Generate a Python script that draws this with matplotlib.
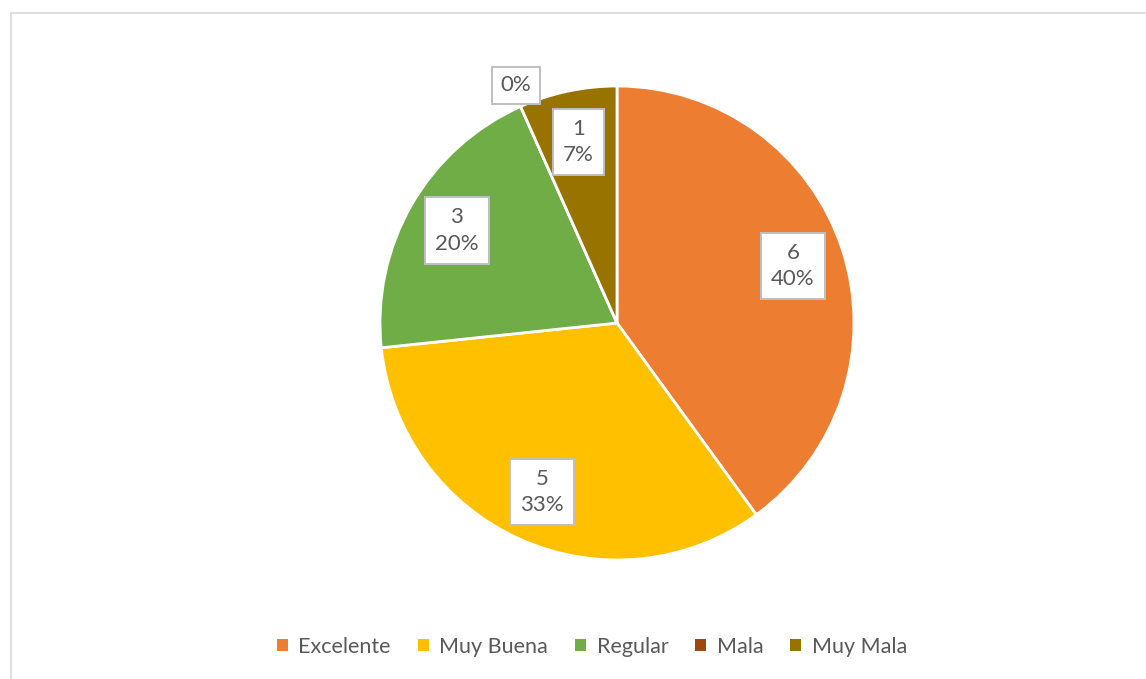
import numpy as np
import matplotlib
matplotlib.use("Agg")
import matplotlib.pyplot as plt
from matplotlib.patches import Patch
from matplotlib.lines import Line2D

categories = ["Excelente", "Muy Buena", "Regular", "Mala", "Muy Mala"]
values = [6, 5, 3, 0, 1]
colors = ["#ED7D31", "#FFC000", "#70AD47", "#9E480E", "#997300"]

plt.rcParams['font.family'] = ['Lato', 'DejaVu Sans']

W, H = 1146, 679
fig = plt.figure(figsize=(W / 100, H / 100), dpi=100)
fig.patch.set_facecolor("white")

# chart border (left and top visible)
fig.add_artist(Line2D([11 / W, 11 / W], [0, 1 - 13 / H], transform=fig.transFigure,
                      color="#D9D9D9", lw=1.2))
fig.add_artist(Line2D([11 / W, 1], [1 - 13 / H, 1 - 13 / H], transform=fig.transFigure,
                      color="#D9D9D9", lw=1.2))

cx, cy, r = 617, 323, 237
ax = fig.add_axes([(cx - r) / W, (H - cy - r) / H, 2 * r / W, 2 * r / H])

wedges, _ = ax.pie(values, colors=colors, startangle=90, counterclock=False,
                   radius=1, wedgeprops=dict(edgecolor="white", linewidth=2.0))
ax.set_xlim(-1, 1)
ax.set_ylim(-1, 1)
ax.set_aspect("auto")
ax.axis("off")

total = sum(values)
for w, v in zip(wedges, values):
    pct = round(100 * v / total)
    if v == 0:
        ang = np.deg2rad(w.theta1 - 1)
        d = 1.09
        txt = f"{pct}%"
        pad = 0.38
    else:
        ang = np.deg2rad((w.theta1 + w.theta2) / 2)
        d = 0.78
        txt = f"{v}\n{pct}%"
        pad = 0.45
    bbox = dict(boxstyle=f"square,pad={pad}", facecolor="white", edgecolor="#BFBFBF",
                linewidth=1.4)
    ax.text(d * np.cos(ang), d * np.sin(ang), txt, ha="center", va="center",
            fontsize=16, color="#595959", bbox=bbox, linespacing=1.4, clip_on=False)

handles = [Patch(facecolor=c, edgecolor="none") for c in colors]
fig.legend(handles, categories, loc="center", bbox_to_anchor=(592 / W, 1 - 647 / H),
           ncol=5, frameon=False, fontsize=15.5, labelcolor="#595959",
           handlelength=0.5, handleheight=0.5, handletextpad=0.5, columnspacing=1.25)

fig.savefig("out.png", dpi=100, facecolor="white")
